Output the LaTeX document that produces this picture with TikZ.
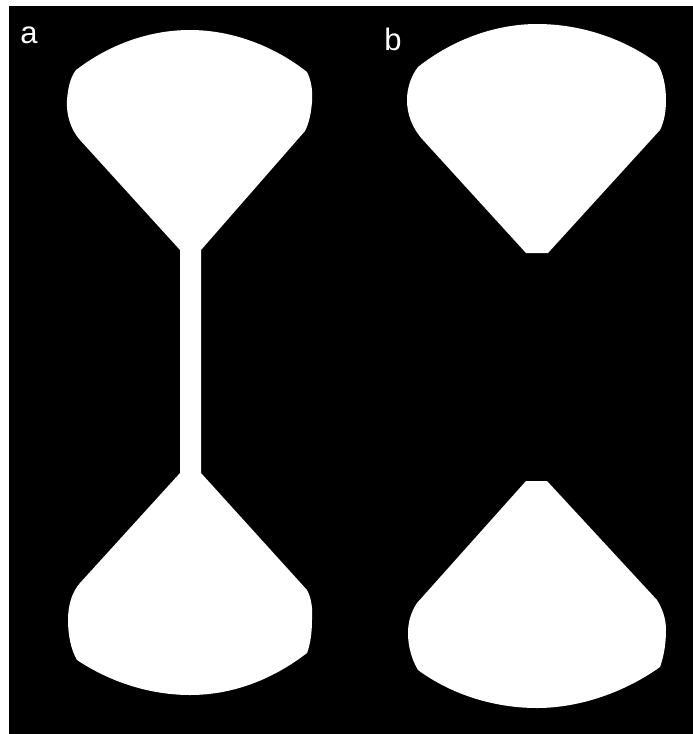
\documentclass[tikz,border=0pt]{standalone}
\usepackage{fontspec}
\setmainfont{Liberation Sans}
\usepackage{tikz}

\begin{document}
\begin{tikzpicture}[
    x=1pt, y=-1pt,
    pad/.style={fill=white, draw=none},
    tag/.style={text=white, inner sep=0pt, anchor=base, font=\fontsize{31}{31}\selectfont},
]
\useasboundingbox (0,0) rectangle (693,734);
\fill[white] (0,0) rectangle (693,734);
\fill[black] (9,6) rectangle (693,734);

% Panel a: pads joined by a narrow bridge
\fill[pad] (180,250) -- (80,140)
  .. controls (71,130) and (66,115) .. (67,100)
  .. controls (68,88) and (70,78) .. (76,70)
  .. controls (110,44) and (150,30) .. (190,30)
  .. controls (232,30) and (274,46) .. (307,72)
  .. controls (311,80) and (313,90) .. (312,102)
  .. controls (311,114) and (309,123) .. (305,131)
  -- (201,250) -- (201,473) -- (307,590)
  .. controls (311,597) and (313,608) .. (312,620)
  .. controls (312,634) and (310,645) .. (307,653)
  .. controls (272,680) and (232,695) .. (190,695)
  .. controls (150,695) and (110,682) .. (77,660)
  .. controls (71,650) and (68,635) .. (68,620)
  .. controls (68,605) and (72,592) .. (80,583)
  -- (180,473) -- cycle;

% Panel b: top pad
\fill[pad] (526,253) -- (423,140)
  .. controls (412,128) and (407,114) .. (407,100)
  .. controls (407,88) and (411,76) .. (418,67)
  .. controls (452,40) and (495,24) .. (537,24)
  .. controls (580,24) and (623,38) .. (657,63)
  .. controls (663,72) and (666,86) .. (666,100)
  .. controls (666,112) and (664,122) .. (660,130)
  -- (548,253) -- cycle;

% Panel b: bottom pad
\fill[pad] (526,481) -- (417,603)
  .. controls (411,612) and (408,622) .. (408,633)
  .. controls (408,647) and (412,660) .. (418,670)
  .. controls (452,695) and (495,708) .. (537,708)
  .. controls (580,708) and (625,692) .. (660,667)
  .. controls (664,656) and (666,643) .. (666,630)
  .. controls (666,618) and (662,608) .. (657,600)
  -- (547,481) -- cycle;

% Labels
\node[tag] (taga) at (29,43) {a};
\node[tag] (tagb) at (393,50) {b};

\end{tikzpicture}
\end{document}
